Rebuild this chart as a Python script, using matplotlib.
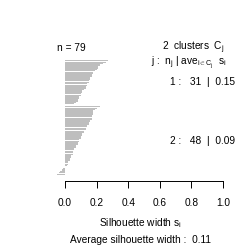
import numpy as np
import matplotlib
matplotlib.use("Agg")
import matplotlib.pyplot as plt

# silhouette widths, sorted within cluster (largest first)
sil_c1 = [0.27, 0.26, 0.24, 0.22, 0.21, 0.21, 0.20, 0.19, 0.18, 0.18,
          0.17, 0.17, 0.16, 0.16, 0.15, 0.15, 0.14, 0.14, 0.13, 0.13,
          0.12, 0.11, 0.11, 0.10, 0.10, 0.09, 0.09, 0.08, 0.08, 0.07,
          0.06]
sil_c2 = [0.22, 0.20, 0.19, 0.18, 0.18, 0.18, 0.17, 0.17, 0.17, 0.17,
          0.16, 0.15, 0.15, 0.14, 0.14, 0.13, 0.13, 0.12, 0.12, 0.11,
          0.11, 0.10, 0.10, 0.09, 0.09, 0.08, 0.08, 0.07, 0.07, 0.06,
          0.06, 0.05, 0.05, 0.05, 0.04, 0.04, 0.03, 0.03, 0.02, 0.02,
          0.02, 0.01, 0.00, -0.01, -0.02, -0.03, -0.04, -0.05]
clusters = [sil_c1, sil_c2]
cluster_means = [0.15, 0.09]
avg_width = 0.11
x_ticks = [0.0, 0.2, 0.4, 0.6, 0.8, 1.0]

plt.rcParams['font.family'] = ['Liberation Sans', 'DejaVu Sans']
plt.rcParams['mathtext.fontset'] = 'custom'
plt.rcParams['mathtext.rm'] = 'Liberation Sans'
plt.rcParams['mathtext.it'] = 'Liberation Sans'
plt.rcParams['font.size'] = 7.3

W = H = 252
fig = plt.figure(figsize=(2.52, 2.52), dpi=100)
# plot region in pixels: x 50..230, y 60..175 (from top)
ax = fig.add_axes([50 / W, (H - 175) / H, 180 / W, 115 / H])

# bar positions: one empty slot between clusters
pos = []
vals = []
centers = []
p = 0
for sil in clusters:
    start = p
    for v in sil:
        pos.append(p)
        vals.append(v)
        p += 1
    centers.append((start + p - 1) / 2)
    p += 1

ax.barh(pos, vals, height=0.9, color='#bebebe', linewidth=0)
ax.set_ylim(pos[-1] + 0.5, -0.5)
ax.set_xlim((50 - 65) / 158, (230 - 65) / 158)

for s in ['top', 'right', 'left']:
    ax.spines[s].set_visible(False)
ax.spines['bottom'].set_position(('outward', 4.3))
ax.spines['bottom'].set_bounds(0, 1)
ax.spines['bottom'].set_linewidth(0.7)
ax.set_yticks([])
ax.set_xticks(x_ticks)
ax.set_xticklabels([f"{t:.1f}" for t in x_ticks])
ax.tick_params(axis='x', length=5, width=0.7, pad=7, direction='out')
ax.set_xlabel(r"Silhouette width $\mathrm{s_i}$", labelpad=6)

n = sum(len(c) for c in clusters)
ax.text(-0.05, -8.8, f"n = {n}", ha='left', va='center', clip_on=False)
ax.text(1.01, -8.8, f"{len(clusters)}  clusters  " + r"$\mathrm{C_j}$",
        ha='right', va='center', clip_on=False)
ax.text(1.02, 1.6, r"j :  $\mathrm{n_j}$ | $\mathrm{ave_{i\in C_j}}$  $\mathrm{s_i}$",
        ha='right', va='center', clip_on=False)
for j, (sil, m, c) in enumerate(zip(clusters, cluster_means, centers)):
    ax.text(1.075, c, f"{j + 1} :   {len(sil)}  |  {m:.2f}",
            ha='right', va='center', clip_on=False)

fig.text(140 / W, 1 - 240 / H, f"Average silhouette width :  {avg_width:.2f}",
         ha='center', va='center')

fig.savefig("out.png", dpi=100)
